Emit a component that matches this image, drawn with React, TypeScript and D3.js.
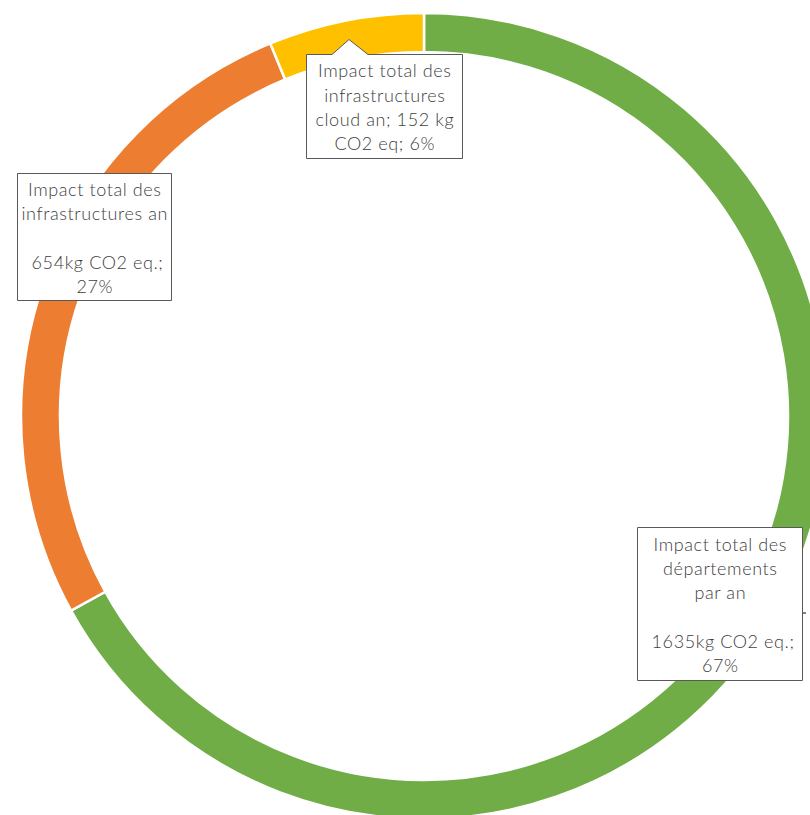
import React from "react";
import * as d3 from "d3";

const categories = ["Départements", "Infrastructures", "Infrastructures cloud"];
const values = [1635, 654, 152];
const colors = ["#70AD47", "#ED7D31", "#FFC000"];
const labelLines = [
  ["Impact total des", "départements", "par an", "", " 1635kg CO2 eq.;", "67%"],
  ["Impact total des", "infrastructures an", "", " 654kg CO2 eq.;", "27%"],
  ["Impact total des", "infrastructures", "cloud an; 152 kg", "CO2 eq; 6%"],
];

// label box layout (x, y, w, h)
const labelBoxes = [
  { x: 637.5, y: 527.5, w: 165, h: 153 },
  { x: 17.5, y: 173.5, w: 154, h: 127 },
  { x: 306.5, y: 54.5, w: 156, h: 104 },
];

export default function App() {
  const W = 810, H = 815;
  const cx = 424, cy = 416;
  const outerR = 403, innerR = 364;
  const pie = d3.pie<number>().sort(null).value((d) => d);
  const arcs = pie(values);
  const arcGen = d3.arc<d3.PieArcDatum<number>>().innerRadius(innerR).outerRadius(outerR);
  const lineH = 24.3;
  const fontSize = 18;

  return (
    <svg width={W} height={H} style={{ position: "absolute", left: 0, top: 0 }}>
      <rect width={W} height={H} fill="#fff" />
      <g transform={`translate(${cx},${cy})`}>
        {arcs.map((a, i) => (
          <path key={categories[i]} d={arcGen(a) || ""} fill={colors[i]} stroke="#fff" strokeWidth={2.5} />
        ))}
      </g>
      {/* small leader stub for green label */}
      <line x1={802.5} y1={613} x2={806} y2={613} stroke="#595959" strokeWidth={1.5} />
      {labelBoxes.map((b, i) => {
        const lines = labelLines[i];
        const mid = b.x + b.w / 2 + 0.3;
        const totalH = lines.length * lineH;
        const top = b.y + (b.h - totalH) / 2 + 2;
        let path: string;
        if (i === 2) {
          const px = 349, py = 39.5, bl = 332, br = 368;
          path = `M${b.x},${b.y} L${bl},${b.y} L${px},${py} L${br},${b.y} L${b.x + b.w},${b.y} L${b.x + b.w},${b.y + b.h} L${b.x},${b.y + b.h} Z`;
        } else {
          path = `M${b.x},${b.y} h${b.w} v${b.h} h${-b.w} Z`;
        }
        return (
          <g key={i}>
            <path d={path} fill="#fff" stroke="#595959" strokeWidth={1} />
            <text
              fontFamily="Lato, 'Open Sans', sans-serif"
              fontWeight={300}
              fontSize={fontSize}
              letterSpacing={0.6}
              fill="#404040"
              textAnchor="middle"
            >
              {lines.map((l, j) => (
                <tspan key={j} x={mid} y={top + lineH * j + lineH * 0.72} style={{ whiteSpace: "pre" }}>
                  {l}
                </tspan>
              ))}
            </text>
          </g>
        );
      })}
    </svg>
  );
}
